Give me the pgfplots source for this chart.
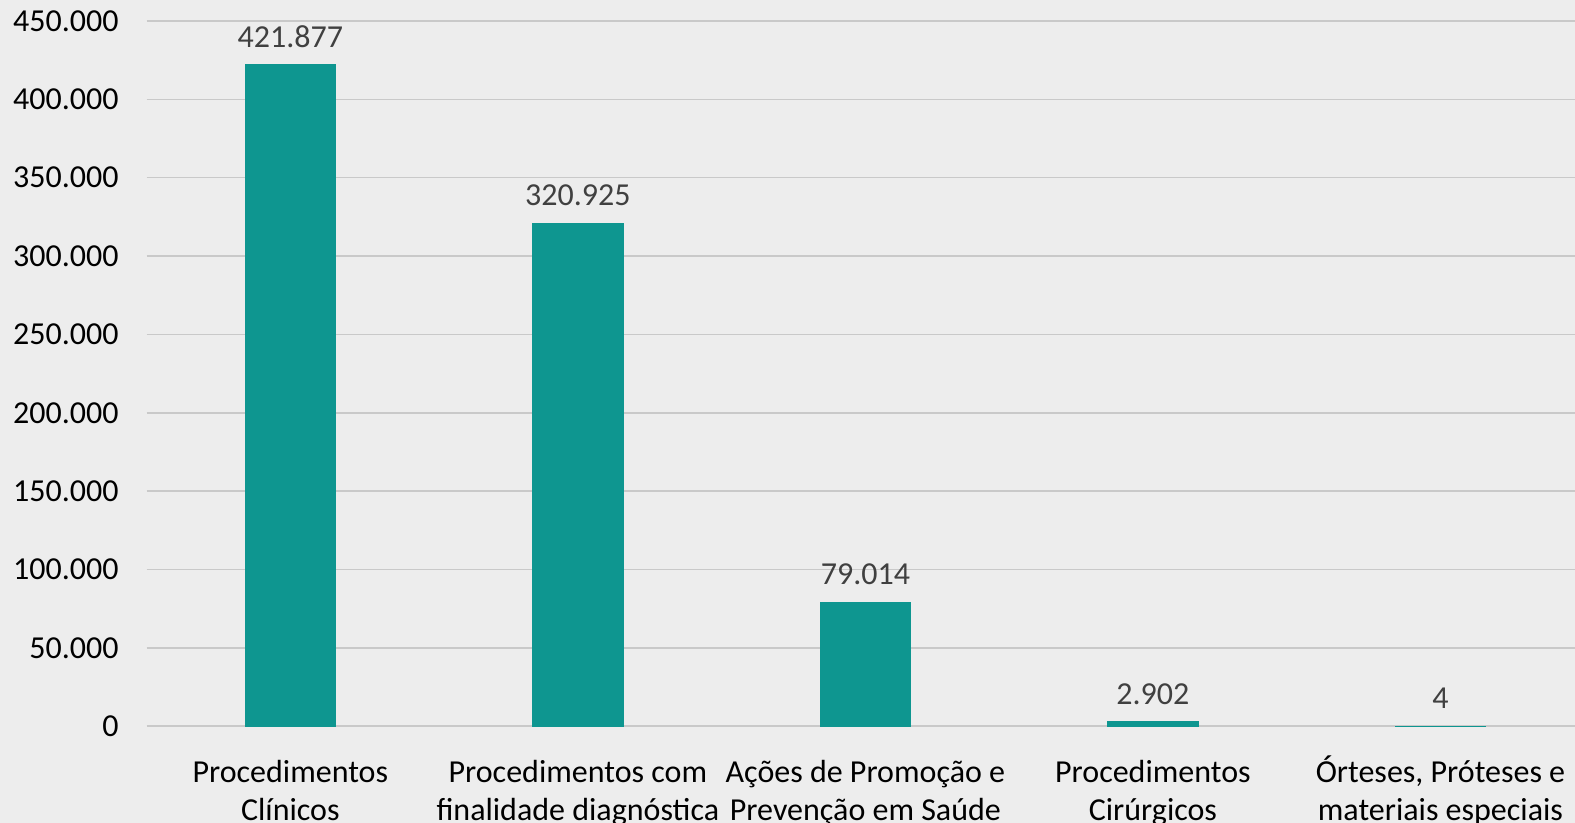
\documentclass[border=0pt]{standalone}
\usepackage{pgfplots}
\pgfplotsset{compat=1.18}
\usepackage{fontspec}
\setmainfont{Carlito}
\definecolor{bg}{HTML}{EDEDED}
\definecolor{barc}{HTML}{0E9690}
\definecolor{gridc}{HTML}{C9C9C9}
\definecolor{lab}{HTML}{404040}
\begin{document}
\begin{tikzpicture}
\fill[bg] (-73.3pt,-48.4pt) rectangle (714.2pt,363.1pt);
\begin{axis}[
  at={(0,0)}, anchor=south west,
  scale only axis, width=718.8pt, height=352.6pt,
  xmin=-0.5, xmax=4.5, ymin=0, ymax=450000,
  ytick={0,50000,...,450000},
  scaled y ticks=false,
  xtick={0,1,2,3,4},
  xticklabels={{Procedimentos\\Clínicos},{Procedimentos com\\finalidade diagnóstica},{Ações de Promoção e\\Prevenção em Saúde},{Procedimentos\\Cirúrgicos},{\smash{Ó}rteses, Próteses e\\materiais especiais}},
  xticklabel style={align=center, font=\fontsize{16}{19}\selectfont, text=black, yshift=-13.5pt},
  yticklabel style={font=\fontsize{16}{19}\selectfont, text=black, xshift=-10.5pt},
  /pgf/number format/.cd, fixed, 1000 sep={.}, assume math mode=true, /pgfplots/.cd,
  axis line style={draw=none},
  major tick length=0pt,
  ymajorgrids, grid style={gridc, line width=0.8pt},
  ybar, bar width=45.2pt,
  nodes near coords,
  every node near coord/.append style={font=\fontsize{16}{19}\selectfont, text=lab, yshift=5pt},
  clip=false,
]
\addplot[fill=barc, draw=barc, line width=0.6pt] coordinates {(0,421877) (1,320925) (2,79014) (3,2902) (4,4)};
\end{axis}
\pgfresetboundingbox
\path[use as bounding box] (-73.3pt,-48.4pt) rectangle (714.2pt,363.1pt);
\end{tikzpicture}
\end{document}
